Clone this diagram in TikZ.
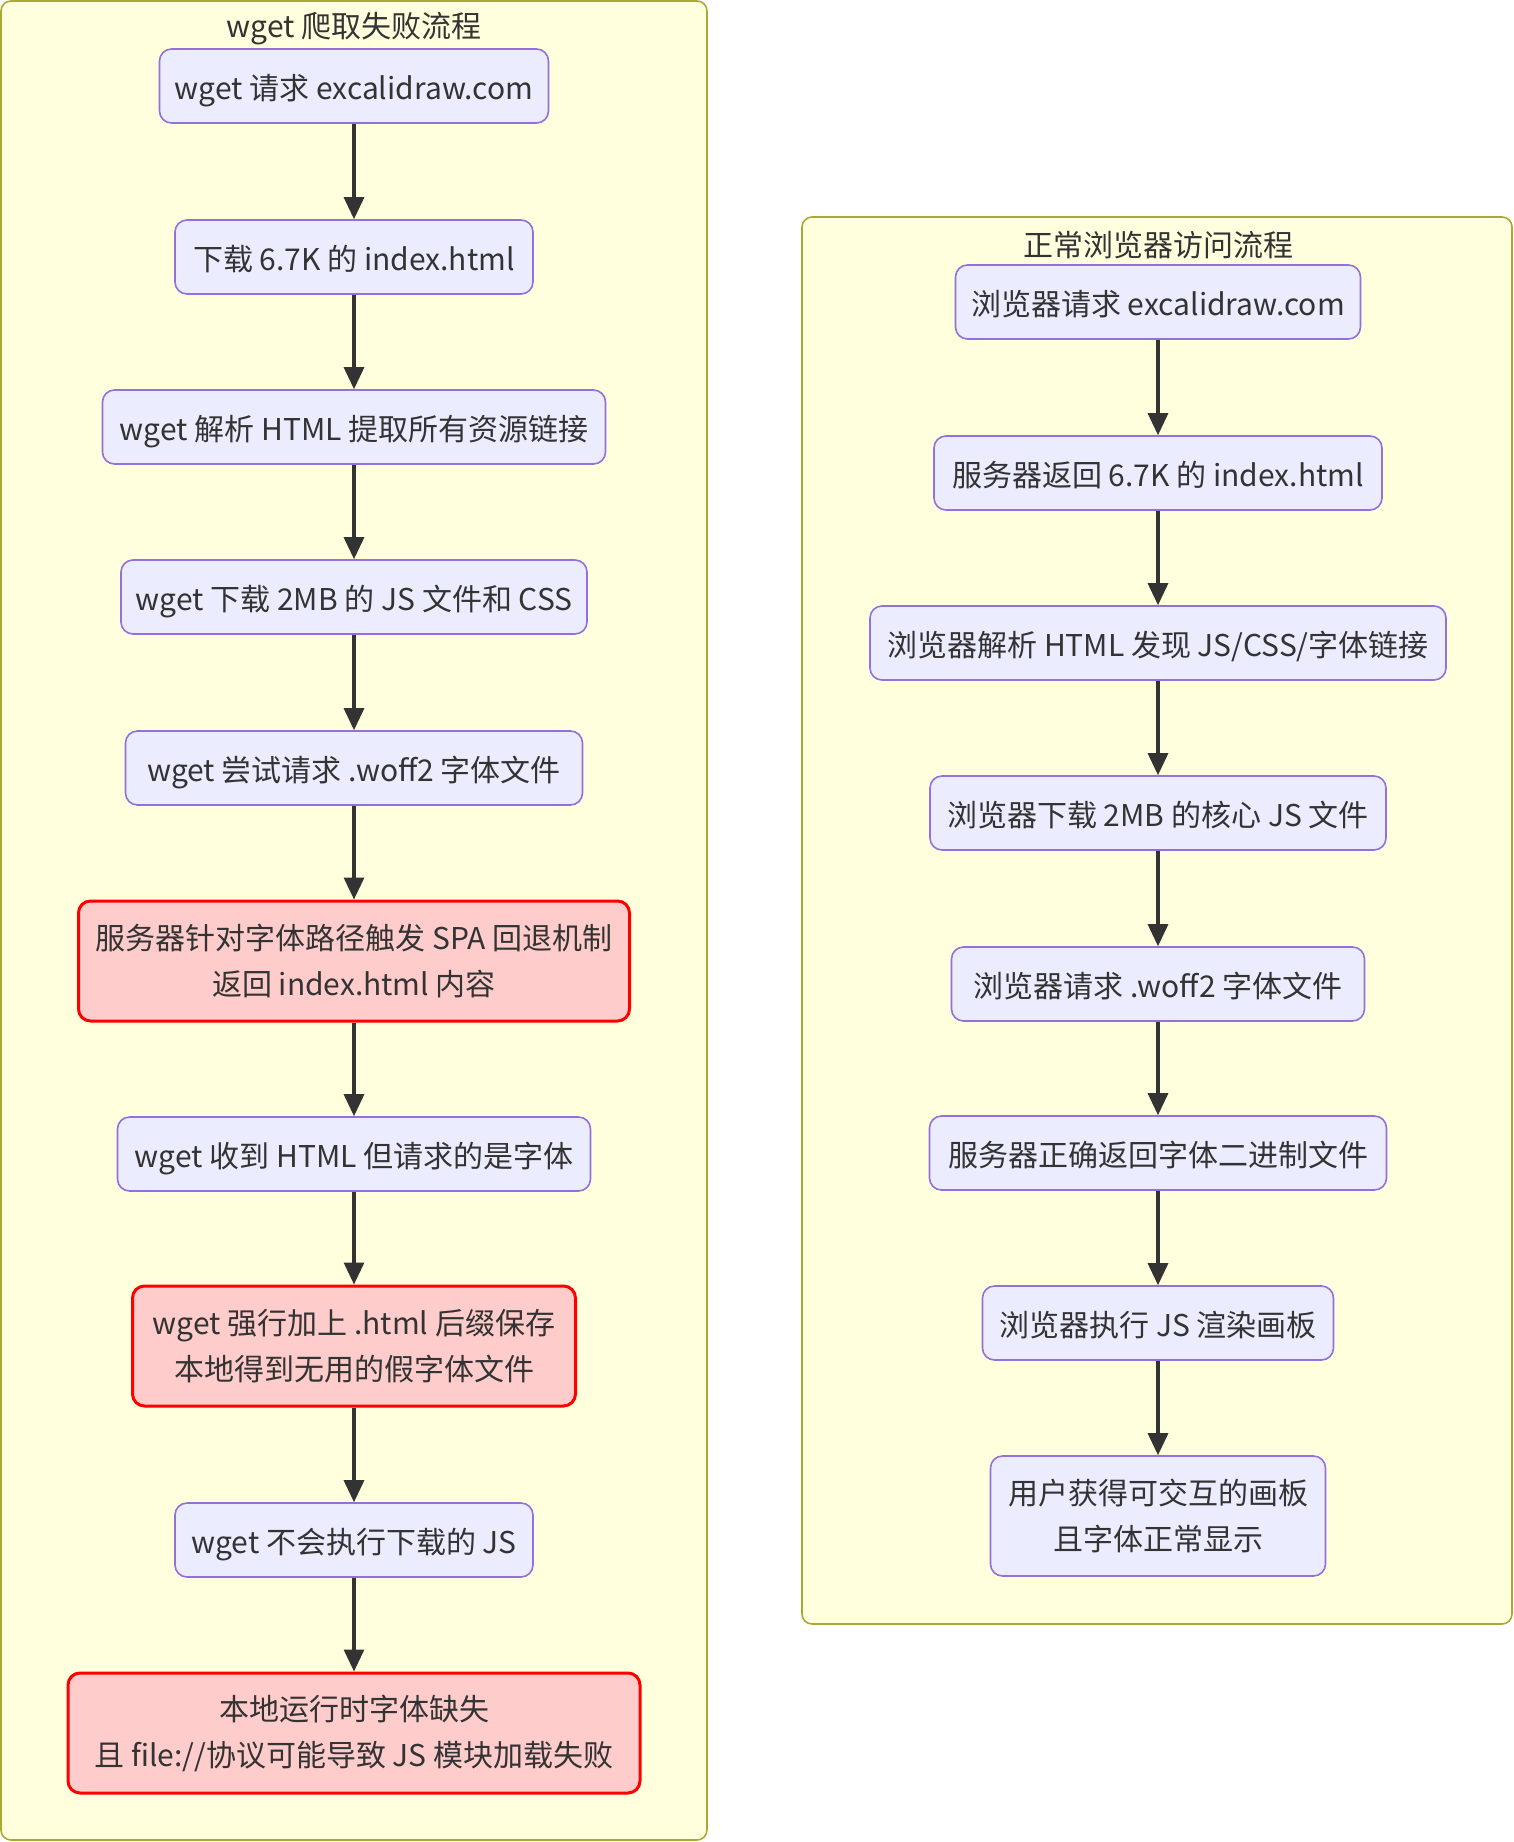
\documentclass[tikz,border=0pt]{standalone}
\usepackage{fontspec}
\setmainfont{Noto Sans CJK SC}
\usetikzlibrary{arrows.meta}
\definecolor{nfill}{HTML}{ECECFF}
\definecolor{nline}{HTML}{9370DB}
\definecolor{rfill}{HTML}{FFCCCC}
\definecolor{rline}{HTML}{FF0000}
\definecolor{cfill}{HTML}{FFFFDE}
\definecolor{cline}{HTML}{AAAA33}
\definecolor{txt}{HTML}{333333}
\tikzset{
  x=1pt, y=-1pt,
  basen/.style={draw=nline, fill=nfill, line width=1.6pt, rounded corners=12pt,
    inner sep=0pt, align=center, text=txt,
    font=\fontsize{30}{46}\selectfont},
  boxn/.style={basen, minimum height=74pt, text height=32pt, text depth=5pt},
  twon/.style={basen, minimum height=120pt},
  redn/.style={twon, draw=rline, fill=rfill, line width=3pt},
  clus/.style={draw=cline, fill=cfill, line width=1.6pt, rounded corners=10pt},
  ctitle/.style={text=txt, font=\fontsize{30}{36}\selectfont, inner sep=0pt},
  flow/.style={draw=txt, line width=3.2pt, -{Triangle[length=22pt, width=20pt]}}
}
\begin{document}
\begin{tikzpicture}
\useasboundingbox (0,0) rectangle (1514,1842);
% clusters
\draw[clus] (1,1) rectangle (707,1840);
\draw[clus] (802,217) rectangle (1512,1624);
\node[ctitle] (t1) at (354,29) {wget 爬取失败流程};
\node[ctitle] (t2) at (1158,245) {正常浏览器访问流程};
% left
\node[boxn, minimum width=389pt] (L1) at (354,86) {wget 请求 excalidraw.com};
\node[boxn, minimum width=358pt] (L2) at (354,257) {下载 6.7K 的 index.html};
\node[boxn, minimum width=503pt] (L3) at (354,427) {wget 解析 HTML 提取所有资源链接};
\node[boxn, minimum width=466pt] (L4) at (354,597) {wget 下载 2MB 的 JS 文件和 CSS};
\node[boxn, minimum width=457pt] (L5) at (354,768) {wget 尝试请求 .woff2 字体文件};
\node[redn, minimum width=551pt] (L6) at (354,961) {服务器针对字体路径触发 SPA 回退机制\\返回 index.html 内容};
\node[boxn, minimum width=473pt] (L7) at (354,1154) {wget 收到 HTML 但请求的是字体};
\node[redn, minimum width=443pt] (L8) at (354,1346) {wget 强行加上 .html 后缀保存\\本地得到无用的假字体文件};
\node[boxn, minimum width=358pt] (L9) at (354,1540) {wget 不会执行下载的 JS};
\node[redn, minimum width=572pt] (L10) at (354,1733) {本地运行时字体缺失\\且 file://协议可能导致 JS 模块加载失败};
% right
\node[boxn, minimum width=405pt] (R1) at (1158,302) {浏览器请求 excalidraw.com};
\node[boxn, minimum width=448pt] (R2) at (1158,473) {服务器返回 6.7K 的 index.html};
\node[boxn, minimum width=576pt] (R3) at (1158,643) {浏览器解析 HTML 发现 JS/CSS/字体链接};
\node[boxn, minimum width=456pt] (R4) at (1158,813) {浏览器下载 2MB 的核心 JS 文件};
\node[boxn, minimum width=413pt] (R5) at (1158,984) {浏览器请求 .woff2 字体文件};
\node[boxn, minimum width=457pt] (R6) at (1158,1153) {服务器正确返回字体二进制文件};
\node[boxn, minimum width=351pt] (R7) at (1158,1323) {浏览器执行 JS 渲染画板};
\node[twon, minimum width=335pt] (R8) at (1158,1516) {用户获得可交互的画板\\且字体正常显示};
% edges
\foreach \a/\b in {L1/L2,L2/L3,L3/L4,L4/L5,L5/L6,L6/L7,L7/L8,L8/L9,L9/L10,
                   R1/R2,R2/R3,R3/R4,R4/R5,R5/R6,R6/R7,R7/R8}
  \draw[flow] (\a.south) -- (\b.north);
\end{tikzpicture}
\end{document}
